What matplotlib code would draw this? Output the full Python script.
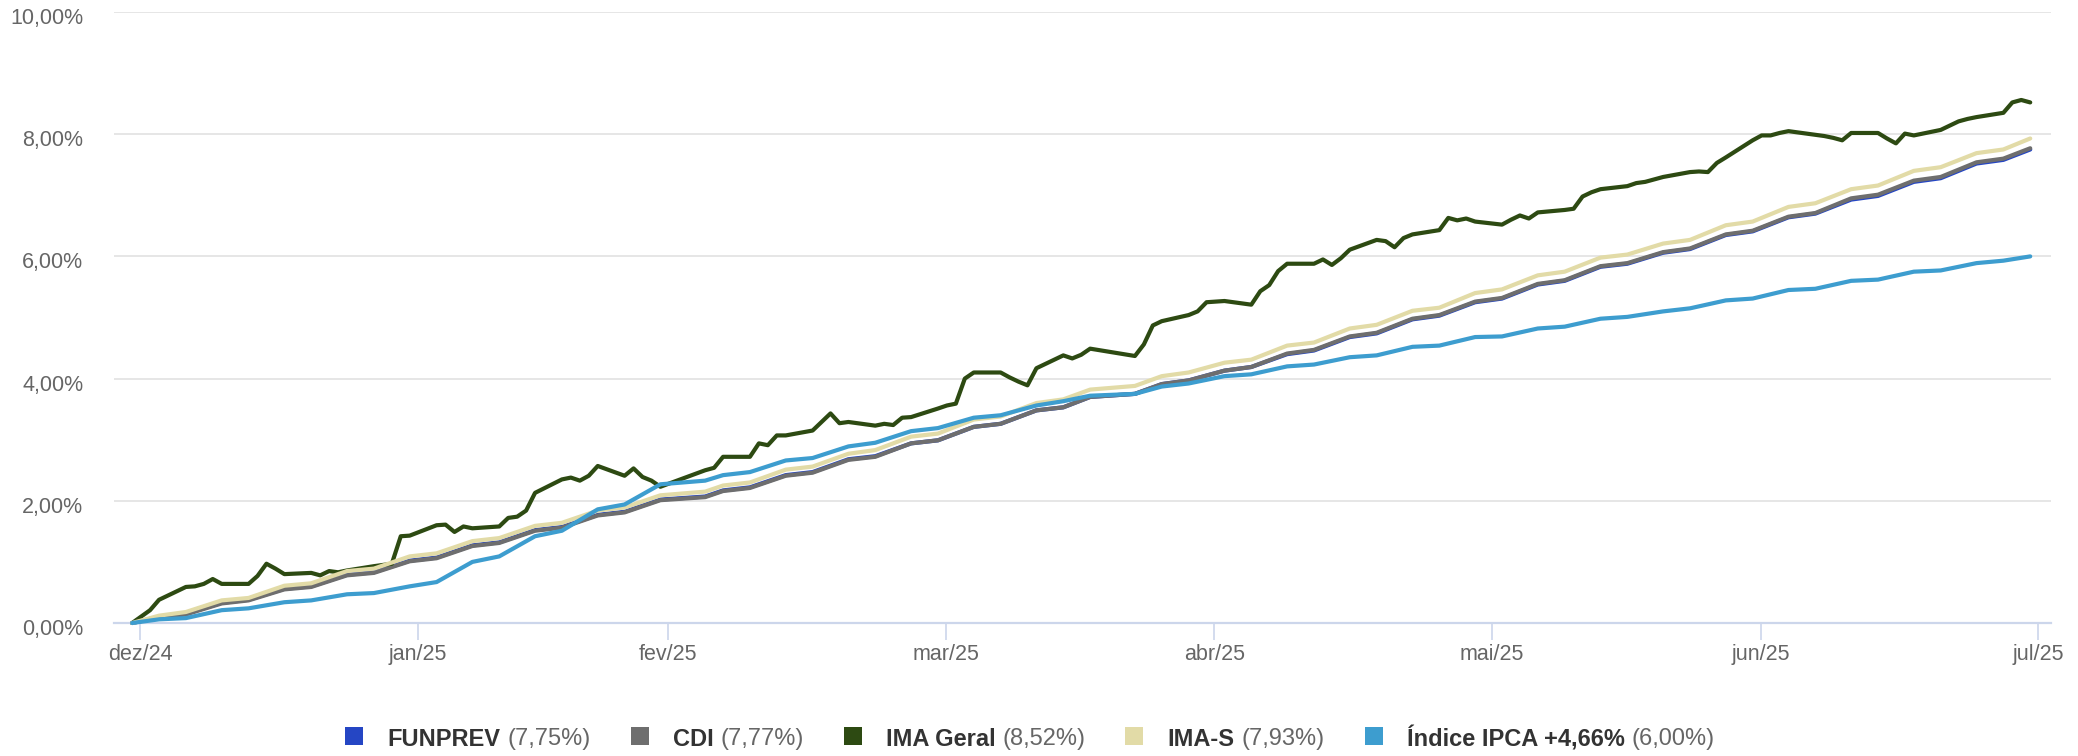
import matplotlib
matplotlib.use("Agg")
import matplotlib.pyplot as plt
import matplotlib.dates as mdates
import pandas as pd
from matplotlib.patches import Rectangle
from matplotlib.ticker import FuncFormatter
from matplotlib.transforms import ScaledTranslation

plt.rcParams["font.family"] = ["Liberation Sans", "DejaVu Sans"]

# accumulated return (%) sampled on Fridays / Mondays
dates = [
    "2024-12-31", "2025-01-03", "2025-01-06", "2025-01-10", "2025-01-13", "2025-01-17",
    "2025-01-20", "2025-01-24", "2025-01-27", "2025-01-31",
    "2025-02-03", "2025-02-07", "2025-02-10", "2025-02-14", "2025-02-17", "2025-02-21",
    "2025-02-24", "2025-02-28",
    "2025-03-05", "2025-03-07", "2025-03-10", "2025-03-14", "2025-03-17", "2025-03-21",
    "2025-03-24", "2025-03-28", "2025-03-31",
    "2025-04-04", "2025-04-07", "2025-04-11", "2025-04-14", "2025-04-17", "2025-04-22",
    "2025-04-25", "2025-04-28",
    "2025-05-02", "2025-05-05", "2025-05-09", "2025-05-12", "2025-05-16", "2025-05-19",
    "2025-05-23", "2025-05-26", "2025-05-30",
    "2025-06-02", "2025-06-06", "2025-06-09", "2025-06-13", "2025-06-16", "2025-06-20",
    "2025-06-23", "2025-06-27", "2025-06-30",
    "2025-07-04", "2025-07-07", "2025-07-11", "2025-07-14", "2025-07-18", "2025-07-21",
    "2025-07-25", "2025-07-28", "2025-07-31",
]
funprev = [
    0.00, 0.10, 0.15, 0.33, 0.38, 0.56, 0.60, 0.79, 0.83, 1.02,
    1.07, 1.27, 1.32, 1.52, 1.57, 1.77, 1.82, 2.02,
    2.07, 2.17, 2.22, 2.42, 2.47, 2.68, 2.73, 2.94, 2.99,
    3.21, 3.26, 3.48, 3.53, 3.70, 3.75, 3.91, 3.97,
    4.13, 4.19, 4.40, 4.46, 4.68, 4.74, 4.97, 5.03, 5.25,
    5.31, 5.54, 5.60, 5.83, 5.88, 6.06, 6.12, 6.35, 6.41,
    6.64, 6.70, 6.93, 6.99, 7.22, 7.28, 7.52, 7.58, 7.75,
]
cdi = [
    0.00, 0.09, 0.14, 0.32, 0.37, 0.55, 0.59, 0.78, 0.82, 1.01,
    1.06, 1.26, 1.31, 1.51, 1.56, 1.76, 1.81, 2.01,
    2.06, 2.16, 2.21, 2.41, 2.46, 2.67, 2.72, 2.94, 2.99,
    3.21, 3.26, 3.48, 3.53, 3.70, 3.75, 3.91, 3.97,
    4.13, 4.19, 4.41, 4.47, 4.69, 4.75, 4.98, 5.04, 5.26,
    5.32, 5.55, 5.61, 5.84, 5.89, 6.07, 6.13, 6.36, 6.42,
    6.65, 6.71, 6.95, 7.01, 7.24, 7.30, 7.54, 7.60, 7.77,
]
ima_s = [
    0.00, 0.12, 0.18, 0.37, 0.41, 0.61, 0.65, 0.85, 0.89, 1.09,
    1.14, 1.34, 1.39, 1.59, 1.64, 1.84, 1.89, 2.09,
    2.15, 2.25, 2.30, 2.51, 2.56, 2.77, 2.83, 3.05, 3.10,
    3.33, 3.38, 3.60, 3.66, 3.82, 3.88, 4.04, 4.10,
    4.26, 4.31, 4.54, 4.59, 4.82, 4.88, 5.11, 5.16, 5.40,
    5.46, 5.69, 5.75, 5.98, 6.03, 6.21, 6.27, 6.51, 6.57,
    6.81, 6.87, 7.10, 7.16, 7.40, 7.46, 7.69, 7.75, 7.93,
]
ipca = [
    0.00, 0.06, 0.08, 0.21, 0.24, 0.34, 0.37, 0.47, 0.49, 0.60,
    0.67, 1.00, 1.09, 1.42, 1.51, 1.86, 1.94, 2.27,
    2.33, 2.42, 2.47, 2.66, 2.70, 2.89, 2.95, 3.14, 3.19,
    3.36, 3.40, 3.56, 3.63, 3.72, 3.75, 3.87, 3.92,
    4.04, 4.07, 4.20, 4.23, 4.35, 4.38, 4.52, 4.54, 4.68,
    4.69, 4.82, 4.85, 4.98, 5.01, 5.10, 5.15, 5.28, 5.31,
    5.45, 5.47, 5.60, 5.62, 5.75, 5.77, 5.89, 5.93, 6.00,
]

# IMA Geral, daily
ima_geral_dates = [
    "2024-12-31", "2025-01-02", "2025-01-03", "2025-01-06", "2025-01-07", "2025-01-08",
    "2025-01-09", "2025-01-10", "2025-01-13", "2025-01-14", "2025-01-15", "2025-01-16",
    "2025-01-17", "2025-01-20", "2025-01-21", "2025-01-22", "2025-01-23", "2025-01-24",
    "2025-01-27", "2025-01-28", "2025-01-29", "2025-01-30", "2025-01-31",
    "2025-02-03", "2025-02-04", "2025-02-05", "2025-02-06", "2025-02-07", "2025-02-10",
    "2025-02-11", "2025-02-12", "2025-02-13", "2025-02-14", "2025-02-17", "2025-02-18",
    "2025-02-19", "2025-02-20", "2025-02-21", "2025-02-24", "2025-02-25", "2025-02-26",
    "2025-02-27", "2025-02-28",
    "2025-03-05", "2025-03-06", "2025-03-07", "2025-03-10", "2025-03-11", "2025-03-12",
    "2025-03-13", "2025-03-14", "2025-03-17", "2025-03-18", "2025-03-19", "2025-03-20",
    "2025-03-21", "2025-03-24", "2025-03-25", "2025-03-26", "2025-03-27", "2025-03-28",
    "2025-03-31",
    "2025-04-01", "2025-04-02", "2025-04-03", "2025-04-04", "2025-04-07", "2025-04-08",
    "2025-04-09", "2025-04-10", "2025-04-11", "2025-04-14", "2025-04-15", "2025-04-16",
    "2025-04-17", "2025-04-22", "2025-04-23", "2025-04-24", "2025-04-25", "2025-04-28",
    "2025-04-29", "2025-04-30",
    "2025-05-02", "2025-05-05", "2025-05-06", "2025-05-07", "2025-05-08", "2025-05-09",
    "2025-05-12", "2025-05-13", "2025-05-14", "2025-05-15", "2025-05-16", "2025-05-19",
    "2025-05-20", "2025-05-21", "2025-05-22", "2025-05-23", "2025-05-26", "2025-05-27",
    "2025-05-28", "2025-05-29", "2025-05-30",
    "2025-06-02", "2025-06-03", "2025-06-04", "2025-06-05", "2025-06-06", "2025-06-09",
    "2025-06-10", "2025-06-11", "2025-06-12", "2025-06-13", "2025-06-16", "2025-06-17",
    "2025-06-18", "2025-06-20", "2025-06-23", "2025-06-24", "2025-06-25", "2025-06-26",
    "2025-06-27", "2025-06-30",
    "2025-07-01", "2025-07-02", "2025-07-03", "2025-07-04", "2025-07-07", "2025-07-08",
    "2025-07-09", "2025-07-10", "2025-07-11", "2025-07-14", "2025-07-15", "2025-07-16",
    "2025-07-17", "2025-07-18", "2025-07-21", "2025-07-22", "2025-07-23", "2025-07-24",
    "2025-07-25", "2025-07-28", "2025-07-29", "2025-07-30", "2025-07-31",
]
ima_geral = [
    0.00, 0.21, 0.38, 0.59, 0.60, 0.64,
    0.72, 0.64, 0.64, 0.77, 0.97, 0.89,
    0.80, 0.82, 0.78, 0.85, 0.83, 0.86,
    0.93, 0.95, 0.97, 1.42, 1.43,
    1.60, 1.61, 1.49, 1.58, 1.55, 1.58,
    1.72, 1.74, 1.84, 2.13, 2.35, 2.38,
    2.33, 2.41, 2.57, 2.41, 2.53, 2.39,
    2.33, 2.23,
    2.50, 2.54, 2.72, 2.72, 2.94, 2.91,
    3.07, 3.07, 3.15, 3.29, 3.43, 3.27,
    3.29, 3.23, 3.26, 3.24, 3.36, 3.37,
    3.51,
    3.56, 3.59, 4.00, 4.10, 4.10, 4.02,
    3.95, 3.89, 4.17, 4.38, 4.33, 4.39,
    4.49, 4.37, 4.56, 4.87, 4.94, 5.04,
    5.10, 5.25,
    5.27, 5.21, 5.43, 5.53, 5.76, 5.88,
    5.88, 5.95, 5.86, 5.97, 6.11, 6.27,
    6.25, 6.15, 6.30, 6.36, 6.43, 6.63,
    6.59, 6.62, 6.57,
    6.52, 6.60, 6.67, 6.62, 6.72, 6.76,
    6.78, 6.98, 7.05, 7.10, 7.15, 7.20,
    7.22, 7.30, 7.38, 7.39, 7.38, 7.53,
    7.62, 7.90,
    7.98, 7.98, 8.02, 8.05, 7.99, 7.97,
    7.94, 7.90, 8.02, 8.02, 7.93, 7.85,
    8.01, 7.98, 8.07, 8.14, 8.21, 8.25,
    8.28, 8.35, 8.52, 8.56, 8.52,
]

month_labels = ["dez/24", "jan/25", "fev/25", "mar/25", "abr/25", "mai/25", "jun/25", "jul/25"]
y_ticks = [0, 2, 4, 6, 8, 10]

series_names = ["FUNPREV", "CDI", "IMA Geral", "IMA-S", "Índice IPCA +4,66%"]
series_totals = ["7,75%", "7,77%", "8,52%", "7,93%", "6,00%"]
series_colors = ["#2546c4", "#6e6e6e", "#2d4a12", "#e2dba7", "#3d9dcf"]

W, H = 2078, 756
fig = plt.figure(figsize=(W / 100, H / 100), dpi=100)
ax = fig.add_axes([114 / W, 133 / H, (2051 - 114) / W, (623 - 12) / H])

x = pd.to_datetime(dates)
xg = pd.to_datetime(ima_geral_dates)
series_x = [x, x, xg, x, x]
series_y = [funprev, cdi, ima_geral, ima_s, ipca]
for i, (sx, sy, c) in enumerate(zip(series_x, series_y, series_colors)):
    ax.plot(sx, sy, color=c, lw=3, solid_joinstyle="round", solid_capstyle="round",
            zorder=3 + i, clip_on=False)

start = pd.Timestamp("2024-12-31")
end = pd.Timestamp("2025-07-31")
ax.set_xlim(start - pd.Timedelta(days=2.03), end + pd.Timedelta(days=2.32))
ax.set_ylim(0, 10)

# month ticks sit at midnight local time (UTC-3), hence the shifted label
ticks = pd.date_range("2025-01-01", periods=len(month_labels), freq="MS") - pd.Timedelta(hours=3)
ax.set_xticks(mdates.date2num(ticks.to_pydatetime()))
ax.set_xticklabels(month_labels)
ax.set_yticks(y_ticks)
ax.yaxis.set_major_formatter(FuncFormatter(lambda v, _: f"{v:.2f}%".replace(".", ",")))

ax.grid(axis="y", color="#e6e6e6", lw=1.4, zorder=0)
ax.set_axisbelow(True)
for s in ["left", "right", "top"]:
    ax.spines[s].set_visible(False)
ax.spines["bottom"].set_color("#ccd6eb")
ax.spines["bottom"].set_linewidth(1.6)
ax.spines["bottom"].set_zorder(2)
ax.tick_params(axis="x", length=12, width=1.2, color="#ccd6eb", pad=3,
               labelsize=15.5, labelcolor="#666666")
ax.tick_params(axis="y", length=0, pad=22, labelsize=15.5, labelcolor="#666666")
for lab in ax.get_yticklabels():
    lab.set_transform(lab.get_transform() + ScaledTranslation(0, -0.04, fig.dpi_scale_trans))

# legend, built by hand: square, bold name, grey total
fs = 17
y_c = 19
box = 18
gap_box = 24
gap_item = 40
fig.canvas.draw()
r = fig.canvas.get_renderer()
parts = []
total_w = 0
for name, tot in zip(series_names, series_totals):
    tb = fig.text(0, y_c / H, name, fontsize=fs, fontweight="bold", color="#333333",
                  va="center_baseline", ha="left")
    tn = fig.text(0, y_c / H, f"({tot})", fontsize=fs, color="#666666",
                  va="center_baseline", ha="left")
    wb = tb.get_window_extent(r).width
    wn = tn.get_window_extent(r).width
    parts.append((tb, tn, wb, wn))
    total_w += box + gap_box + wb + 7 + wn
total_w += gap_item * (len(parts) - 1)

xpos = W / 2 - 9 - total_w / 2
for (tb, tn, wb, wn), c in zip(parts, series_colors):
    fig.add_artist(Rectangle((xpos / W, (y_c - box / 2 + 1) / H), box / W, box / H,
                             transform=fig.transFigure, color=c, lw=0))
    xpos += box + gap_box
    tb.set_x(xpos / W)
    xpos += wb + 7
    tn.set_x(xpos / W)
    xpos += wn + gap_item

fig.savefig("out.png", dpi=100)
